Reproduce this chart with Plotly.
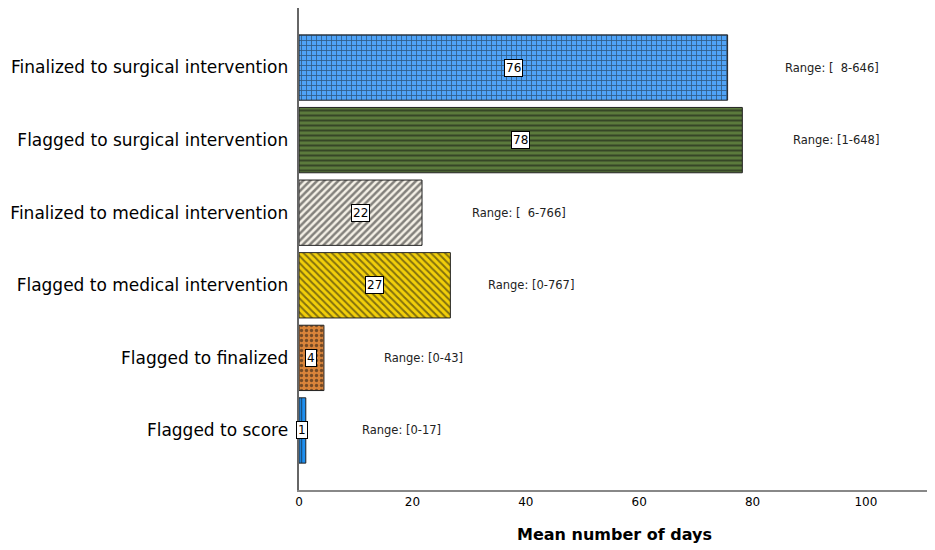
import plotly.graph_objects as go

# data
categories = ["Finalized to surgical intervention", "Flagged to surgical intervention",
              "Finalized to medical intervention", "Flagged to medical intervention",
              "Flagged to finalized", "Flagged to score"]
mean_days = [75.6, 78.2, 21.7, 26.7, 4.4, 1.2]
value_labels = ["76", "78", "22", "27", "4", "1"]
range_labels = ["Range: [  8-646]", "Range: [1-648]", "Range: [  6-766]",
                "Range: [0-767]", "Range: [0-43]", "Range: [0-17]"]

# styling
bar_colors = ["#4fa3f7", "#5b7a3c", "#f4f0e6", "#f2cf0a", "#d9843a", "#1e8ff0"]
bar_shapes = ["+", "-", "/", "\\", ".", "|"]
bar_solidity = [0.3, 0.4, 0.5, 0.4, 0.35, 0.3]
range_label_x = [85.4, 86.8, 30.1, 32.9, 14.6, 10.7]  # where the range notes sit (days)

fig = go.Figure()
for i, cat in enumerate(categories):
    fig.add_trace(go.Bar(
        y=[cat], x=[mean_days[i]], orientation="h", width=0.9,
        marker=dict(color=bar_colors[i], line=dict(color="#222222", width=1),
                    pattern=dict(shape=bar_shapes[i], fgcolor="#111111",
                                 size=5, solidity=bar_solidity[i])),
        showlegend=False, hoverinfo="x+y"))

annotations = []
for i, cat in enumerate(categories):
    annotations.append(dict(x=mean_days[i] / 2, y=cat, xref="x", yref="y",
                            text=value_labels[i], showarrow=False,
                            font=dict(size=12, color="black", family="DejaVu Sans"),
                            bgcolor="white", bordercolor="black", borderwidth=1,
                            borderpad=1))
    annotations.append(dict(x=range_label_x[i], y=cat, xref="x", yref="y",
                            text=range_labels[i], showarrow=False, xanchor="left",
                            font=dict(size=11.5, color="#222222", family="DejaVu Sans")))

# page body adds 8px, so the figure is a bit smaller than the window
fig.update_layout(
    width=927, height=542,
    margin=dict(l=291, r=5, t=0, b=60),
    plot_bgcolor="white", paper_bgcolor="white",
    font=dict(family="DejaVu Sans", color="black"),
    annotations=annotations,
    xaxis=dict(range=[0, 111.3], tickvals=[0, 20, 40, 60, 80, 100],
               showgrid=False, zeroline=False, showline=True,
               linecolor="#888888", linewidth=2, ticks="",
               tickfont=dict(size=12),
               title=dict(text="<b>Mean number of days</b>", font=dict(size=16),
                          standoff=20)),
    yaxis=dict(categoryorder="array", categoryarray=categories,
               range=[5.82, -0.82], showgrid=False, zeroline=False,
               showline=True, linecolor="#666666", linewidth=2, ticks="",
               tickfont=dict(size=17), ticksuffix=" ", automargin=False),
)

fig.write_html("out.html")
